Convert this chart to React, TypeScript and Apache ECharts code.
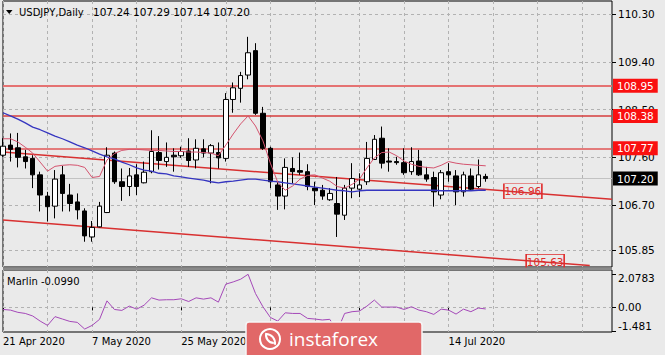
import React, { useEffect, useRef } from 'react';
import * as echarts from 'echarts';

// ---------- data ----------
const startYear = 2020;
const startMonth = 3; // April (0-based)
const startDay = 21;
const totalSlots = 83;

const opens = [107.64,107.83,107.78,107.61,107.58,107.27,106.87,106.68,107.27,106.89,
  106.76,106.59,106.10,106.29,106.56,107.68,107.14,107.05,107.27,107.12,
  107.33,107.69,107.52,107.64,107.63,107.72,107.55,107.76,107.68,107.69,
  107.58,108.69,108.90,109.15,109.61,108.43,107.77,107.08,106.87,107.39,
  107.35,107.33,107.02,106.98,106.80,106.73,106.51,107.02,107.00,107.14,
  107.56,107.96,107.53,107.52,107.50,107.33,107.53,107.27,107.22,106.89,
  107.33,107.25,106.95,107.25,107.05,107.24];
const highs = [107.96,108.05,108.06,107.74,107.64,107.33,106.95,107.36,107.44,107.10,
  106.92,106.64,106.40,106.76,107.79,107.71,107.39,107.40,107.47,107.52,
  108.11,108.00,107.88,107.77,107.80,107.96,107.94,107.94,107.85,107.88,
  108.81,109.01,109.21,109.87,109.75,108.55,107.80,107.14,107.58,107.60,
  107.69,107.47,107.14,107.08,107.02,107.23,107.08,107.49,107.30,107.89,
  108.02,108.18,107.77,107.61,107.77,107.79,107.74,107.42,107.33,107.36,
  107.49,107.36,107.33,107.39,107.56,107.29];
const lows = [107.61,107.52,107.41,107.39,107.02,106.58,106.39,106.45,106.58,106.58,
  106.43,106.01,106.01,106.28,106.55,107.10,106.78,106.87,106.89,107.11,
  107.30,107.37,107.42,107.33,107.59,107.42,107.39,107.60,107.11,107.39,
  107.52,108.44,108.63,109.07,108.40,107.74,107.02,106.61,106.62,107.11,
  107.27,106.98,106.70,106.80,106.78,106.10,106.42,106.83,106.85,107.08,
  107.55,107.39,107.33,107.46,107.27,107.27,107.25,107.14,106.67,106.81,
  107.14,106.70,106.86,106.98,107.02,107.14];
const closes = [107.81,107.75,107.60,107.52,107.27,106.89,106.67,107.19,106.92,106.73,
  106.61,106.12,106.28,106.68,107.64,107.14,107.05,107.25,107.05,107.32,
  107.71,107.54,107.60,107.61,107.71,107.54,107.77,107.68,107.82,107.59,
  108.69,108.91,109.14,109.57,108.43,107.77,107.14,106.87,107.41,107.33,
  107.32,107.05,106.97,106.87,106.92,106.53,107.02,107.20,107.08,107.58,
  107.94,107.49,107.51,107.50,107.31,107.52,107.27,107.19,106.95,107.31,
  107.27,106.95,107.27,107.00,107.27,107.20];

const maFast = [107.95,107.95,107.89,107.79,107.68,107.51,107.34,107.43,107.45,107.46,
  107.45,107.41,107.22,107.24,107.55,107.67,107.73,107.75,107.75,107.74,
  107.73,107.73,107.72,107.71,107.71,107.70,107.70,107.69,107.68,107.63,
  107.83,108.04,108.23,108.38,108.19,107.91,107.49,107.13,106.98,107.06,
  107.19,107.26,107.27,107.21,107.15,107.05,107.02,107.09,107.19,107.40,
  107.59,107.69,107.70,107.63,107.53,107.47,107.43,107.41,107.40,107.45,
  107.52,107.49,107.47,107.46,107.45,107.44];
const maSlow = [108.44,108.38,108.32,108.25,108.17,108.12,108.06,108.00,107.95,107.89,
  107.83,107.78,107.72,107.66,107.61,107.57,107.51,107.46,107.40,107.36,
  107.34,107.30,107.29,107.25,107.23,107.21,107.19,107.17,107.14,107.12,
  107.14,107.15,107.17,107.19,107.19,107.17,107.15,107.14,107.12,107.10,
  107.08,107.06,107.04,107.02,107.00,106.98,106.97,106.95,106.97,106.98,
  106.98,106.98,106.98,106.98,106.98,106.98,106.98,106.98,106.98,106.97,
  106.97,106.97,106.97,106.97,106.98,106.98];
const marlin = [-0.13,-0.17,-0.31,-0.38,-0.54,-0.86,-1.13,-0.58,-0.73,-0.88,
  -0.94,-1.36,-1.13,-0.75,0.41,-0.13,-0.19,0.08,-0.11,0.14,
  0.60,0.46,0.48,0.48,0.54,0.37,0.60,0.52,0.60,0.33,
  1.46,1.60,1.77,2.0783,0.87,0.04,-0.63,-0.86,-0.34,-0.38,
  -0.38,-0.69,-0.73,-0.79,-0.75,-1.481,-0.38,-0.27,-0.23,0.08,
  0.46,0.02,0.02,0.02,-0.13,0.04,-0.17,-0.27,-0.44,-0.11,
  -0.17,-0.42,-0.11,-0.27,-0.04,-0.099];

const levels = [108.95, 108.38, 107.77];
const levelColors = ['#e57272', '#d63c3c', '#e05656'];
const levelWidths = [2, 1.5, 1.5];
const lastPrice = 107.20;
const priceTicks = [110.30, 109.40, 108.50, 107.60, 106.70, 105.85];
const marlinTicks = [2.0783, 0, -1.481];
const marlinTickLabels = ['2.0783', '0.00', '-1.481'];
const upperTrend = [[0, 107.70], [82, 106.81]];
const lowerTrend = [[0, 106.42], [79, 105.56]];
const trendLabels = [[70, 106.96], [73, 105.63]];
const headerSymbol = 'USDJPY,Daily';
const headerPrices = '107.24 107.29 107.14 107.20';
const marlinName = 'Marlin -0.0990';
const logoText = 'instaforex';

const months = ['Jan','Feb','Mar','Apr','May','Jun','Jul','Aug','Sep','Oct','Nov','Dec'];
function tradingDays(n: number): string[] {
  const out: string[] = [];
  const d = new Date(Date.UTC(startYear, startMonth, startDay));
  while (out.length < n) {
    const wd = d.getUTCDay();
    if (wd !== 0 && wd !== 6) out.push(`${d.getUTCDate()} ${months[d.getUTCMonth()]} ${d.getUTCFullYear()}`);
    d.setUTCDate(d.getUTCDate() + 1);
  }
  return out;
}

const FONT = 'DejaVu Sans';
const BG = '#eaeaea';
const GRIDC = '#b2b2b2';

export default function App() {
  const ref = useRef<HTMLDivElement>(null);
  useEffect(() => {
    if (!ref.current) return;
    const chart = echarts.init(ref.current, null, { renderer: 'svg' });
    const categories = tradingDays(totalSlots);
    const labelIdx = (i: number) => i % 12 === 0 && i <= 60;
    const gridIdx = (i: number) => i % 6 === 0;

    const candleData = opens.map((o, i) => [o, closes[i], lows[i], highs[i]]);

    const levelLines = levels.map((v, k) => ({
      yAxis: v,
      lineStyle: { color: levelColors[k], width: levelWidths[k], type: 'solid' },
      label: {
        show: true, position: 'end', distance: 1, formatter: v.toFixed(2),
        backgroundColor: '#fa1010', color: '#fff', padding: [2, 4, 1, 4],
        fontSize: 10.5, fontFamily: FONT,
      },
    }));
    const lastLine = {
      yAxis: lastPrice,
      lineStyle: { color: '#c2c2c2', width: 1, type: 'solid' },
      label: {
        show: true, position: 'end', distance: 1, formatter: lastPrice.toFixed(2),
        backgroundColor: '#000', color: '#fff', padding: [2, 4, 1, 4],
        fontSize: 10.5, fontFamily: FONT,
      },
    };
    const trendStyle = { color: '#d83030', width: 1.5, type: 'solid' };
    const trendLines = [upperTrend, lowerTrend].map((t) => [
      { coord: t[0], lineStyle: trendStyle, label: { show: false } },
      { coord: t[1] },
    ]);

    const LZ = 200;
    const option: any = {
      animation: false,
      backgroundColor: BG,
      textStyle: { fontFamily: FONT },
      grid: [
        { left: 3, right: 53, top: 1, height: 266, show: true, borderColor: '#000', borderWidth: 1, containLabel: false, outerBoundsMode: 'none' },
        { left: 3, right: 53, top: 270, height: 62, show: true, borderColor: '#000', borderWidth: 1, containLabel: false, outerBoundsMode: 'none' },
      ],
      xAxis: [
        {
          type: 'category', gridIndex: 0, data: categories, boundaryGap: false,
          axisLine: { show: false }, axisTick: { show: false }, axisLabel: { show: false },
          splitLine: { show: true, interval: gridIdx, lineStyle: { color: GRIDC, type: [3, 3], width: 1 } },
        },
        {
          type: 'category', gridIndex: 1, data: categories, boundaryGap: false,
          axisLine: { show: false },
          axisTick: { show: true, interval: labelIdx, length: 3, lineStyle: { color: '#000' } },
          axisLabel: { show: true, interval: labelIdx, align: 'left', margin: 4, fontSize: 10, color: '#000', fontFamily: FONT },
          splitLine: { show: true, interval: gridIdx, lineStyle: { color: GRIDC, type: [3, 3], width: 1 } },
        },
      ],
      yAxis: [
        {
          type: 'value', gridIndex: 0, position: 'right', min: 105.534, max: 110.545,
          axisLine: { show: false },
          axisTick: { show: true, customValues: priceTicks, length: 4, lineStyle: { color: '#000' } },
          axisLabel: { show: true, customValues: priceTicks, formatter: (v: number) => v.toFixed(2), margin: 6, fontSize: 10.5, color: '#000', fontFamily: FONT },
          splitLine: { show: false },
        },
        {
          type: 'value', gridIndex: 1, position: 'right', min: -1.545, max: 2.348,
          axisLine: { show: false },
          axisTick: { show: true, customValues: marlinTicks, length: 4, lineStyle: { color: '#000' } },
          axisLabel: {
            show: true, customValues: marlinTicks, margin: 6, fontSize: 10.5, color: '#000', fontFamily: FONT,
            formatter: (v: number) => {
              const k = marlinTicks.findIndex((t) => Math.abs(t - v) < 1e-6);
              const s = k >= 0 ? marlinTickLabels[k] : String(v);
              if (k === 0) return `{t|${s}}`;
              if (k === 2) return `{b|${s}}`;
              return `{m|${s}}`;
            },
            rich: {
              t: { padding: [8, 0, 0, 0], fontSize: 10.5, color: '#000', fontFamily: FONT },
              m: { fontSize: 10.5, color: '#000', fontFamily: FONT },
              b: { padding: [0, 0, 10, 0], fontSize: 10.5, color: '#000', fontFamily: FONT },
            },
          },
          splitLine: { show: false },
        },
      ],
      series: [
        {
          name: 'grid', type: 'line', xAxisIndex: 0, yAxisIndex: 0, data: [], clip: false, silent: true,
          markLine: {
            z: 1, silent: true, symbol: ['none', 'none'], animation: false,
            lineStyle: { color: GRIDC, type: [3, 3], width: 1 },
            label: { show: false },
            data: priceTicks.map((v) => ({ yAxis: v })),
          },
        },
        {
          name: 'levels', type: 'line', xAxisIndex: 0, yAxisIndex: 0, data: [], clip: false, silent: true,
          markLine: {
            z: 2, silent: true, symbol: ['none', 'none'], animation: false,
            data: [lastLine, ...levelLines, ...trendLines],
          },
          markPoint: {
            z: 6, silent: true, animation: false,
            symbol: 'rect', symbolSize: [38, 15],
            itemStyle: { color: 'rgba(0,0,0,0)', borderColor: '#e02a2a', borderWidth: 1 },
            label: { show: true, position: 'inside', color: '#e02a2a', fontSize: 10.5, fontFamily: FONT, formatter: (p: any) => Number(p.value).toFixed(2) },
            data: trendLabels.map((t) => ({ coord: t, value: t[1] })),
          },
        },
        {
          name: 'USDJPY', type: 'candlestick', xAxisIndex: 0, yAxisIndex: 0, z: 3,
          data: candleData, barWidth: 5,
          itemStyle: { color: '#ffffff', color0: '#000000', borderColor: '#000000', borderColor0: '#000000', borderWidth: 1 },
        },
        {
          name: 'MA slow', type: 'line', xAxisIndex: 0, yAxisIndex: 0, z: 4, data: maSlow,
          showSymbol: false, symbol: 'none', lineStyle: { color: '#3535c0', width: 1.3 },
        },
        {
          name: 'MA fast', type: 'line', xAxisIndex: 0, yAxisIndex: 0, z: 4, data: maFast,
          showSymbol: false, symbol: 'none', lineStyle: { color: '#d4536e', width: 1 },
        },
        {
          name: 'Marlin', type: 'line', xAxisIndex: 1, yAxisIndex: 1, z: 4, data: marlin,
          showSymbol: false, symbol: 'none', lineStyle: { color: '#a448b8', width: 1 },
          markLine: {
            z: 1, silent: true, symbol: ['none', 'none'], animation: false,
            lineStyle: { color: GRIDC, type: [3, 3], width: 1 }, label: { show: false },
            data: [{ yAxis: 0 }],
          },
        },
      ],
      graphic: [
        { type: 'polygon', silent: true, z: 20, shape: { points: [[6, 10], [12.5, 10], [9.25, 14]] }, style: { fill: '#000' } },
        { type: 'text', silent: true, z: 20, x: 19, y: 12, style: { text: headerSymbol, fontSize: 10, fontFamily: FONT, fill: '#000', verticalAlign: 'middle' } },
        { type: 'text', silent: true, z: 20, x: 93, y: 12, style: { text: headerPrices, fontSize: 10.5, fontFamily: FONT, fill: '#000', verticalAlign: 'middle' } },
        { type: 'text', silent: true, z: 20, x: 7, y: 281, style: { text: marlinName, fontSize: 10, fontFamily: FONT, fill: '#000', verticalAlign: 'middle' } },
        { type: 'rect', silent: true, z: 20, shape: { x: 3, y: 267.5, width: 609, height: 2.5 }, style: { fill: '#8a8a8a' } },
        { type: 'rect', silent: true, z: LZ, zlevel: 1, shape: { x: 246, y: 322, width: 176, height: 40, r: 3 }, style: { fill: '#e16868', stroke: '#f6f6f6', lineWidth: 1.5 } },
        { type: 'circle', silent: true, z: LZ + 1, zlevel: 1, shape: { cx: 270, cy: 339, r: 10 }, style: { fill: 'none', stroke: '#fff', lineWidth: 2 } },
        { type: 'arc', silent: true, z: LZ + 1, zlevel: 1, shape: { cx: 266, cy: 343, r: 9, startAngle: -1.6, endAngle: 0.2 }, style: { fill: 'none', stroke: '#fff', lineWidth: 2 } },
        { type: 'arc', silent: true, z: LZ + 1, zlevel: 1, shape: { cx: 274, cy: 335, r: 8, startAngle: 1.6, endAngle: 3.4 }, style: { fill: 'none', stroke: '#fff', lineWidth: 2 } },
        { type: 'text', silent: true, z: LZ + 1, zlevel: 1, x: 289, y: 339, style: { text: logoText, fontSize: 19, fontFamily: 'Open Sans', fill: '#ffffff', verticalAlign: 'middle' } },
      ],
    };
    chart.setOption(option);
    return () => chart.dispose();
  }, []);
  return (
    <div
      ref={ref}
      style={{ position: 'fixed', left: 0, top: 0, width: 665, height: 355, background: BG }}
    />
  );
}
